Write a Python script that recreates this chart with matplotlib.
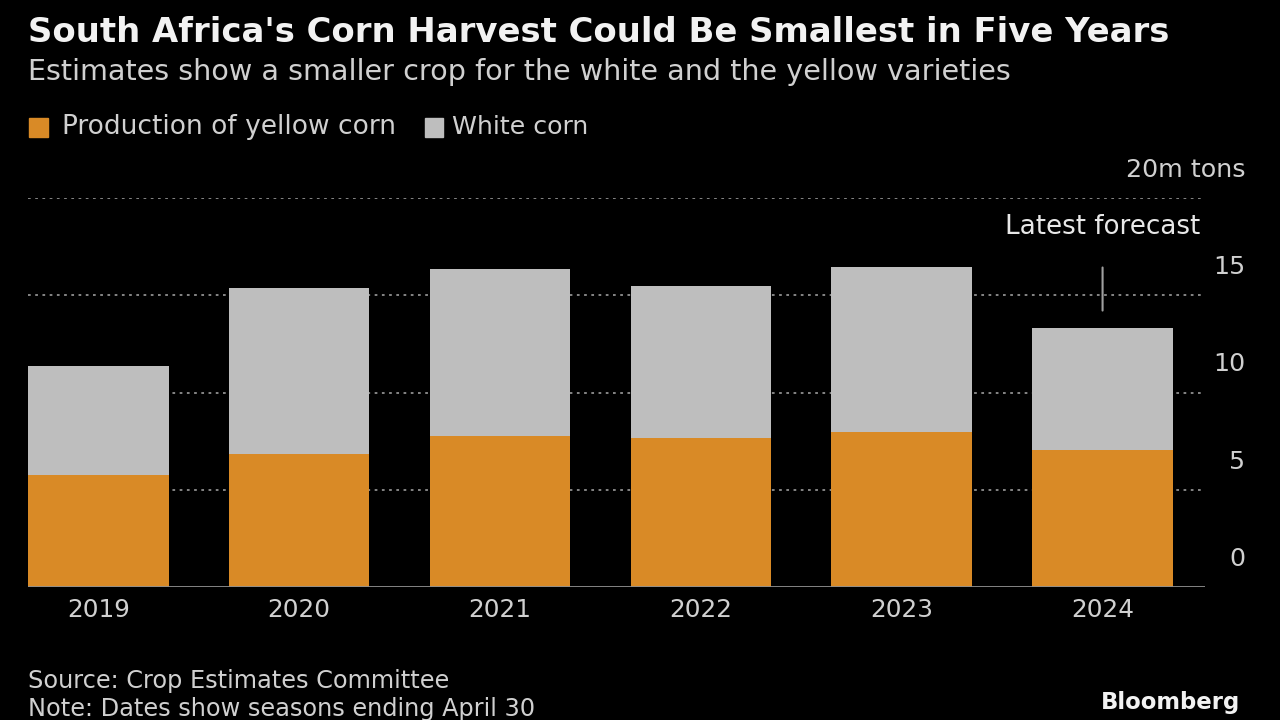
import matplotlib
matplotlib.use("Agg")
import matplotlib.pyplot as plt
from matplotlib.patches import Rectangle
import matplotlib.transforms as mtransforms

years = ["2019", "2020", "2021", "2022", "2023", "2024"]
yellow = [5.77, 6.83, 7.78, 7.66, 7.95, 7.05]
white = [5.57, 8.52, 8.59, 7.84, 8.49, 6.27]
yticks = [0, 5, 10, 15, 20]
ytick_labels = ["0", "5", "10", "15", "20m tons"]

BG = "#000000"
ORANGE = "#D98A26"
GRAY = "#BEBEBE"
TXT = "#E8E8E8"
TXT2 = "#D0D0D0"

plt.rcParams['font.family'] = ['DejaVu Sans']

fig = plt.figure(figsize=(12.8, 7.2), dpi=100, facecolor=BG)
ax = fig.add_axes([28/1280, 1-587/720, (1205-28)/1280, (587-198)/720])
ax.set_facecolor(BG)

x = list(range(len(years)))
ax.bar(x, yellow, width=0.70, color=ORANGE, zorder=3, label="Production of yellow corn")
ax.bar(x, white, width=0.70, bottom=yellow, color=GRAY, zorder=3, label="White corn")

ax.set_xlim(-0.35, 5.51)
ax.set_ylim(0, 20)
for s in ax.spines.values():
    s.set_visible(False)
ax.set_yticks([])
ax.set_xticks(x)
ax.set_xticklabels(years, fontsize=17.8, color=TXT2)
ax.tick_params(axis='x', length=0, pad=8)

for v in yticks[1:]:
    ax.axhline(v, color="#909090", lw=1.3, ls=(0, (1.5, 2.5)), zorder=1)
ax.axhline(0, color="#909090", lw=2, zorder=4)

trans = mtransforms.blended_transform_factory(fig.transFigure, ax.transData)
for v, lab in zip(yticks, ytick_labels):
    ax.text(1245/1280, v + 1.45, lab, transform=trans, ha="right", va="center",
            fontsize=18.3, color=TXT2)

# Latest forecast annotation
total_last = yellow[-1] + white[-1]
ax.annotate("", xy=(5, total_last + 0.75), xytext=(5, total_last + 3.25),
            arrowprops=dict(arrowstyle="-", color="#A0A0A0", lw=1.5))
ax.text(5, total_last + 5.2, "Latest forecast", ha="center", va="center",
        fontsize=18.8, color=TXT)

fig.text(28/1280, 1-32/720, "South Africa's Corn Harvest Could Be Smallest in Five Years",
         fontsize=24.4, fontweight="bold", color="#F2F2F2", ha="left", va="center")
fig.text(28/1280, 1-72/720, "Estimates show a smaller crop for the white and the yellow varieties",
         fontsize=20.6, color=TXT2, ha="left", va="center")

# legend
fig.patches.append(Rectangle((29/1280, 1-137/720), 19/1280, 19/720, transform=fig.transFigure,
                             color=ORANGE, figure=fig))
fig.text(62/1280, 1-127/720, "Production of yellow corn", fontsize=19, color=TXT2,
         ha="left", va="center")
fig.patches.append(Rectangle((425/1280, 1-137/720), 18/1280, 19/720, transform=fig.transFigure,
                             color=GRAY, figure=fig))
fig.text(452/1280, 1-127/720, "White corn", fontsize=18.2, color=TXT2, ha="left", va="center")

fig.text(28/1280, 1-681/720, "Source: Crop Estimates Committee", fontsize=17.3, color=TXT2,
         ha="left", va="center")
fig.text(28/1280, 1-709/720, "Note: Dates show seasons ending April 30", fontsize=17.3, color=TXT2,
         ha="left", va="center")
fig.text(1240/1280, 1-703/720, "Bloomberg", fontsize=16.4, fontweight="bold", color="#F2F2F2",
         ha="right", va="center")

fig.savefig("out.png", dpi=100, facecolor=BG)
